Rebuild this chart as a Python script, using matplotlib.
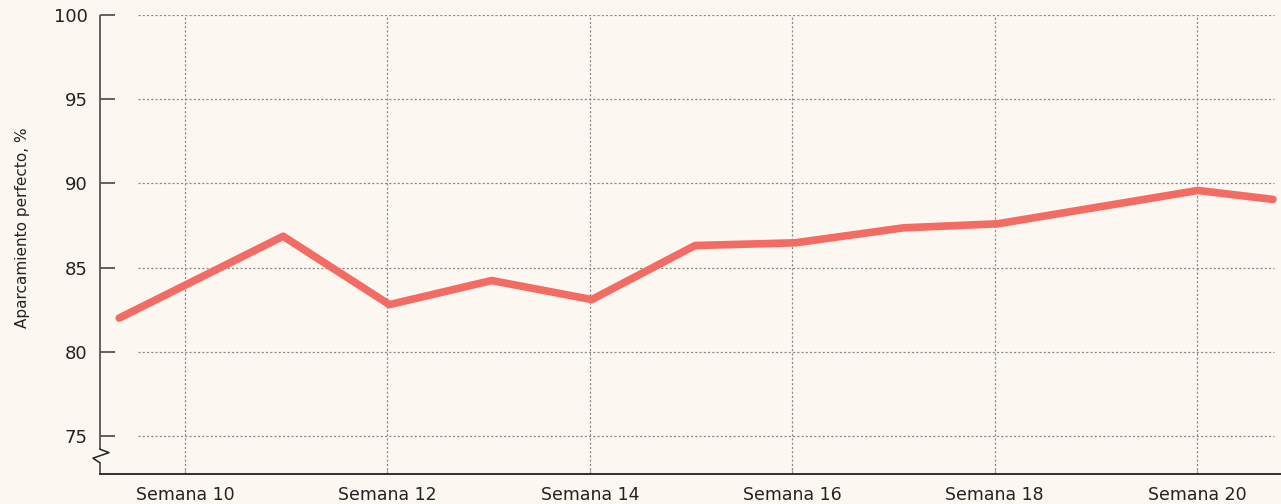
import matplotlib
matplotlib.use("Agg")
import matplotlib.pyplot as plt
from matplotlib.transforms import blended_transform_factory

# datos (semana, % aparcamiento perfecto)
semanas = [9.35, 10.97, 12.02, 13.03, 14.02, 15.04, 16.03, 17.1, 18.03, 20.01, 20.75]
valores = [82.0, 86.86, 82.8, 84.23, 83.1, 86.31, 86.47, 87.36, 87.6, 89.58, 89.05]

x_ticks = [10, 12, 14, 16, 18, 20]
x_labels = ["Semana 10", "Semana 12", "Semana 14", "Semana 16", "Semana 18", "Semana 20"]
y_ticks = [75, 80, 85, 90, 95, 100]

fondo = "#FCF7F1"
color_linea = "#F46B63"
color_grid = "#8a8a8a"

plt.rcParams["font.family"] = ["DejaVu Sans"]

fig = plt.figure(figsize=(12.81, 5.04), dpi=100, facecolor=fondo)
ax = fig.add_axes([100 / 1281, 30 / 504, 1181 / 1281, 459 / 504])
ax.set_facecolor(fondo)

ax.set_xlim(9.16, 20.83)
ax.set_ylim(72.74, 100)

# rejilla punteada
ax.hlines(y_ticks, 9.54, 20.76, colors=color_grid, linewidth=0.9,
          linestyles=(0, (1.7, 1.7)), zorder=1)
ax.vlines(x_ticks, 72.74, 100, colors=color_grid, linewidth=0.9,
          linestyles=(0, (1.7, 1.7)), zorder=1)

ax.plot(semanas, valores, color=color_linea, linewidth=5.5,
        solid_capstyle="round", solid_joinstyle="round", zorder=3)

# ejes
for s in ["top", "right", "left"]:
    ax.spines[s].set_visible(False)
ax.spines["bottom"].set_color("#222222")
ax.spines["bottom"].set_linewidth(1.3)

# eje y con marca de corte
tr = blended_transform_factory(ax.transAxes, ax.transData)
dx = 1 / 1181
ax.plot([0, 0], [100, 74.21], color="#555555", linewidth=1.3, transform=tr,
        clip_on=False, solid_capstyle="butt")
ax.plot([0, 9 * dx, -7 * dx, 0], [74.21, 74.01, 73.68, 73.40], color="#222222",
        linewidth=1.1, transform=tr, clip_on=False)
ax.plot([0, 0], [73.40, 72.74], color="#555555", linewidth=1.3, transform=tr,
        clip_on=False, solid_capstyle="butt")

ax.set_yticks(y_ticks)
ax.set_yticklabels([str(v) for v in y_ticks])
ax.tick_params(axis="y", direction="in", length=11, width=1.3, color="#555555",
               labelsize=13, labelcolor="#222222", pad=9)

ax.set_xticks(x_ticks)
ax.set_xticklabels(x_labels)
ax.tick_params(axis="x", direction="in", length=3, width=0.8, color="#999999",
               labelsize=12.5, labelcolor="#222222", pad=9)

ax.set_ylabel("Aparcamiento perfecto, %", fontsize=11, color="#222222")
ax.yaxis.set_label_coords(-0.059, 0.536)

fig.savefig("out.png", dpi=100, facecolor=fondo)
